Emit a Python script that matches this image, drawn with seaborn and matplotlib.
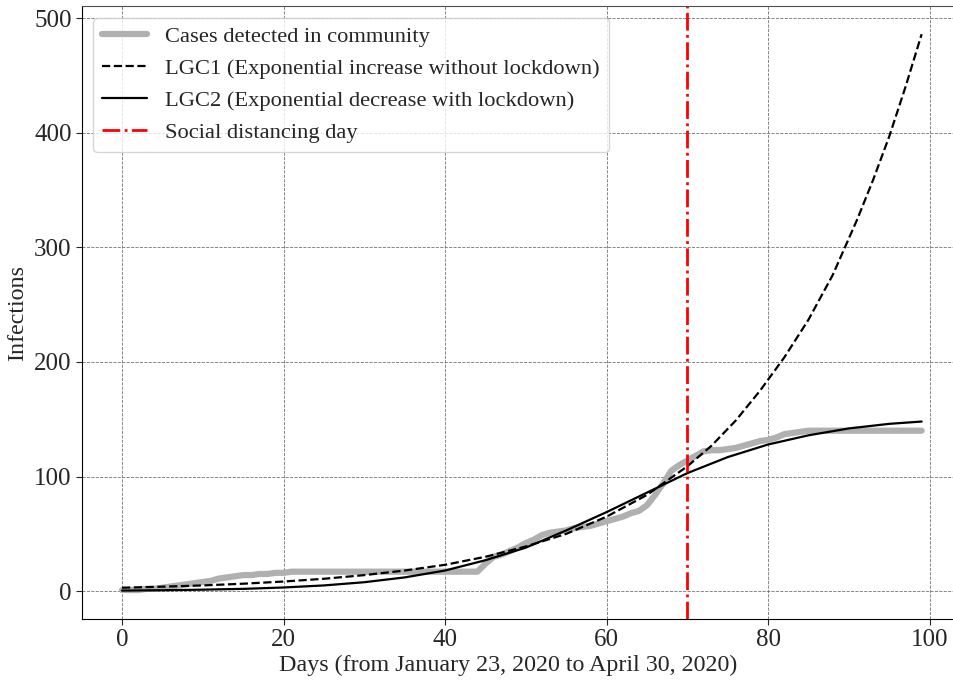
import numpy as np
import pandas as pd
import matplotlib
matplotlib.use("Agg")
import matplotlib.pyplot as plt
import seaborn as sns

# Observed cases (days 0..99)
days_obs = list(range(100))
cases = [1, 1, 1, 2, 2, 3, 4, 5, 6, 7,
         8, 9, 11, 12, 13, 14, 14, 15, 15, 16,
         16, 17, 17, 17, 17, 17, 17, 17, 17, 17,
         17, 17, 17, 17, 17, 17, 17, 17, 17, 17,
         17, 17, 17, 17, 17, 24, 30, 32, 35, 38,
         42, 45, 49, 51, 52, 53, 55, 56, 57, 59,
         61, 63, 65, 68, 70, 75, 84, 94, 105, 110,
         114, 118, 122, 123, 123, 124, 125, 127, 129, 131,
         132, 134, 137, 138, 139, 140, 140, 140, 140, 140,
         140, 140, 140, 140, 140, 140, 140, 140, 140, 140]

# LGC1 fitted curve
days_lgc1 = [0, 5, 10, 15, 20, 25, 30, 35, 40, 45, 50, 55, 60, 65, 70,
             73, 76, 79, 82, 85, 88, 91, 93, 95, 97, 99]
lgc1 = [3, 3.9, 5, 6.5, 8.4, 10.8, 14, 18, 23, 30, 39, 50, 65, 84, 109,
        127, 149, 175, 204, 237, 276, 324, 359, 397, 440, 486]

# LGC2 fitted curve
days_lgc2 = [0, 5, 10, 15, 20, 25, 30, 35, 40, 45, 50, 55, 60, 65, 70,
             75, 80, 85, 90, 95, 99]
lgc2 = [0.5, 0.8, 1.3, 2.0, 3.2, 5.0, 7.8, 12, 18, 27, 38, 53, 69, 86, 103,
        117, 128, 136, 142, 146, 148]

social_day = 70

sns.set_style("white")
plt.rcParams['font.family'] = ['Liberation Serif', 'DejaVu Serif']

fig = plt.figure(figsize=(9.54, 6.8), dpi=100)
ax = fig.add_axes([0.086, 0.0897, 0.922, 0.901])

df_obs = pd.DataFrame({"day": days_obs, "val": cases})
df1 = pd.DataFrame({"day": days_lgc1, "val": lgc1})
df2 = pd.DataFrame({"day": days_lgc2, "val": lgc2})

sns.lineplot(data=df_obs, x="day", y="val", ax=ax, color="#b0b0b0", lw=4.5,
             label="Cases detected in community", solid_capstyle="round")
sns.lineplot(data=df1, x="day", y="val", ax=ax, color="black", lw=1.6,
             linestyle="--", label="LGC1 (Exponential increase without lockdown)")
sns.lineplot(data=df2, x="day", y="val", ax=ax, color="black", lw=1.6,
             label="LGC2 (Exponential decrease with lockdown)")
ax.axvline(social_day, color="red", lw=2, linestyle="-.", label="Social distancing day")

ax.set_xlim(-4.95, 103.95)
ax.set_ylim(-24.3, 510.3)
ax.set_xticks([0, 20, 40, 60, 80, 100])
ax.set_yticks([0, 100, 200, 300, 400, 500])
ax.tick_params(axis='both', labelsize=18, direction='out', length=4, width=0.8,
               bottom=True, left=True)
ax.grid(True, color="0.45", linestyle="--", linewidth=0.6)
for s in ax.spines.values():
    s.set_color("black")
    s.set_linewidth(0.8)
ax.spines['right'].set_visible(False)
ax.spines['top'].set_color("0.3")

ax.set_xlabel("Days (from January 23, 2020 to April 30, 2020)", fontsize=17.3)
ax.xaxis.set_label_coords(0.484, -0.058)
ax.set_ylabel("Infections", fontsize=17.3)
ax.legend(loc="upper left", fontsize=16.2, frameon=True)

fig.savefig("out.png", dpi=100)
